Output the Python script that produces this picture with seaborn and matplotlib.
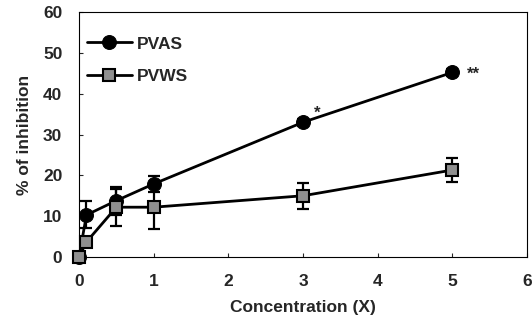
import numpy as np
import pandas as pd
import seaborn as sns
import matplotlib.pyplot as plt

# data
conc = [0, 0.1, 0.5, 1, 3, 5]
pvas = [0, 10.3, 13.8, 17.9, 33.0, 45.2]
pvas_err = [0, 3.3, 3.4, 1.9, 0.8, 0.8]
pvws = [0, 3.7, 12.2, 12.2, 15.0, 21.3]
pvws_err = [0, 1.0, 4.5, 5.3, 3.2, 2.9]
stars = ['', '', '', '', '*', '**']

sns.set_theme(style='white')
plt.rcParams['font.family'] = ['Liberation Sans', 'DejaVu Sans']
plt.rcParams['font.weight'] = 'bold'

df = pd.DataFrame({'conc': conc * 2,
                   'value': pvas + pvws,
                   'series': ['PVAS'] * len(conc) + ['PVWS'] * len(conc)})

fig = plt.figure(figsize=(5.32, 3.29), dpi=100)
ax = fig.add_axes([0.1485, 0.2188, 0.8421, 0.7447])

# error bars first so markers sit on top
ax.errorbar(conc, pvas, yerr=pvas_err, fmt='none', ecolor='black',
            elinewidth=1.6, capsize=4, capthick=1.6, zorder=2)
ax.errorbar(conc, pvws, yerr=pvws_err, fmt='none', ecolor='black',
            elinewidth=1.6, capsize=4, capthick=1.6, zorder=2)

sns.lineplot(data=df, x='conc', y='value', hue='series', style='series',
             palette=['black', 'black'], markers={'PVAS': 'o', 'PVWS': 's'},
             dashes=False, linewidth=2, markersize=10, ax=ax, zorder=3)

# square markers filled gray, keep the x=0 points visible
for line in ax.get_lines():
    line.set_clip_on(False)
    if line.get_marker() == 's':
        line.set_markerfacecolor('#8f8f8f')
        line.set_markeredgecolor('black')
        line.set_markeredgewidth(1.5)
        line.set_markersize(9)
        line.set_zorder(4)
    elif line.get_marker() == 'o':
        line.set_markerfacecolor('black')
        line.set_markeredgecolor('black')

# significance marks: '*' sits above-right, '**' to the right
for x, y, s in zip(conc, pvas, stars):
    if s == '*':
        ax.text(x + 0.14, y + 1.2, s, fontsize=12, fontweight='bold',
                ha='left', va='baseline')
    elif s == '**':
        ax.text(x + 0.2, y - 1.6, s, fontsize=12, fontweight='bold',
                ha='left', va='baseline')

ax.set_xlim(0, 6)
ax.set_ylim(0, 60)
ax.set_xticks(range(0, 7))
ax.set_yticks(range(0, 61, 10))
ax.tick_params(direction='in', length=3, width=0.8, labelsize=12.5,
               bottom=True, left=True, pad=12)
for lab in ax.get_xticklabels() + ax.get_yticklabels():
    lab.set_fontweight('bold')
for sp in ax.spines.values():
    sp.set_color('black')
    sp.set_linewidth(0.8)

ax.set_xlabel('Concentration (X)', fontsize=12.5, fontweight='bold', labelpad=8)
ax.set_ylabel('% of inhibition', fontsize=12.5, fontweight='bold', labelpad=8)

leg = ax.legend(loc='upper left', bbox_to_anchor=(-0.01, 0.95), frameon=False,
                fontsize=12.5, handlelength=2.6, borderaxespad=0.3,
                labelspacing=1.0, handletextpad=0.3)
for h in leg.legend_handles:
    if h.get_marker() == 's':
        h.set_markerfacecolor('#8f8f8f')
        h.set_markeredgecolor('black')
        h.set_markersize(9)
for t in leg.get_texts():
    t.set_fontweight('bold')

fig.savefig('out.png', dpi=100)
